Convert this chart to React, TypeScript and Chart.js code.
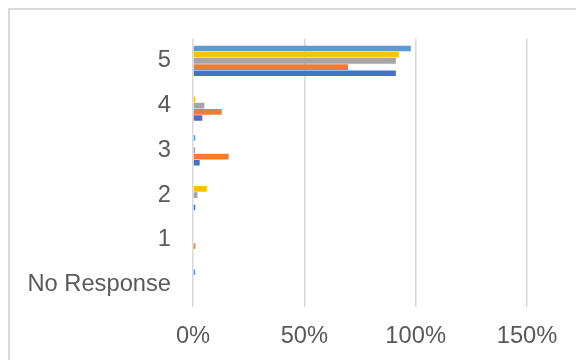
import React, { useEffect, useRef } from "react";
import { Chart, registerables } from "chart.js";

Chart.register(...registerables);

const categories = ["5", "4", "3", "2", "1", "No Response"];
const seriesLightBlue = [97.8, 0, 1, 0, 0, 1];
const seriesYellow = [92.4, 1, 0, 6.2, 0, 0];
const seriesGray = [91.1, 5.1, 1, 2, 0, 0];
const seriesOrange = [69.6, 12.9, 16, 0, 1, 0];
const seriesDarkBlue = [91.1, 4.2, 3, 1, 0, 0];
const xTicks = [0, 50, 100, 150];

export default function App() {
  const ref = useRef<HTMLCanvasElement | null>(null);

  useEffect(() => {
    if (!ref.current) return;
    const font = { family: "'Liberation Sans', Arial, sans-serif", size: 23.7 };
    const mk = (label: string, data: number[], color: string) => ({
      label,
      data,
      backgroundColor: color,
      borderWidth: 0,
      categoryPercentage: 0.694,
      barPercentage: 0.9,
    });
    const chart = new Chart(ref.current, {
      type: "bar",
      data: {
        labels: categories,
        datasets: [
          mk("S5", seriesLightBlue, "#5B9BD5"),
          mk("S4", seriesYellow, "#FFC000"),
          mk("S3", seriesGray, "#A5A5A5"),
          mk("S2", seriesOrange, "#ED7D31"),
          mk("S1", seriesDarkBlue, "#4472C4"),
        ],
      },
      options: {
        indexAxis: "y",
        animation: false,
        responsive: false,
        maintainAspectRatio: false,
        layout: { padding: { top: 38.5, right: 49, bottom: 0, left: 0 } },
        plugins: { legend: { display: false }, tooltip: { enabled: false } },
        scales: {
          x: {
            min: 0,
            max: 150,
            afterBuildTicks: (s: any) => {
              s.ticks = xTicks.map((v) => ({ value: v }));
            },
            afterFit: (s: any) => {
              s.height = 53;
            },
            grid: { color: "#d9d9d9", lineWidth: 1.5, drawTicks: false },
            border: { display: false },
            ticks: {
              color: "#595959",
              font,
              padding: 15,
              callback: (v: any) => v + "%",
            },
          },
          y: {
            afterFit: (s: any) => {
              s.width = 193;
            },
            grid: { display: false, drawTicks: false },
            border: { display: false },
            ticks: { color: "#595959", font, padding: 22 },
          },
        },
      },
    });
    return () => chart.destroy();
  }, []);

  return (
    <div style={{ position: "fixed", left: 0, top: 0, width: 576, height: 360, background: "#fff" }}>
      <canvas ref={ref} width={576} height={360} style={{ position: "absolute", left: 0, top: 0 }} />
      <div
        style={{
          position: "absolute",
          left: 8,
          top: 8,
          width: 568,
          height: 352,
          borderTop: "2px solid #d9d9d9",
          borderLeft: "2px solid #d9d9d9",
          boxSizing: "border-box",
          pointerEvents: "none",
        }}
      />
    </div>
  );
}
